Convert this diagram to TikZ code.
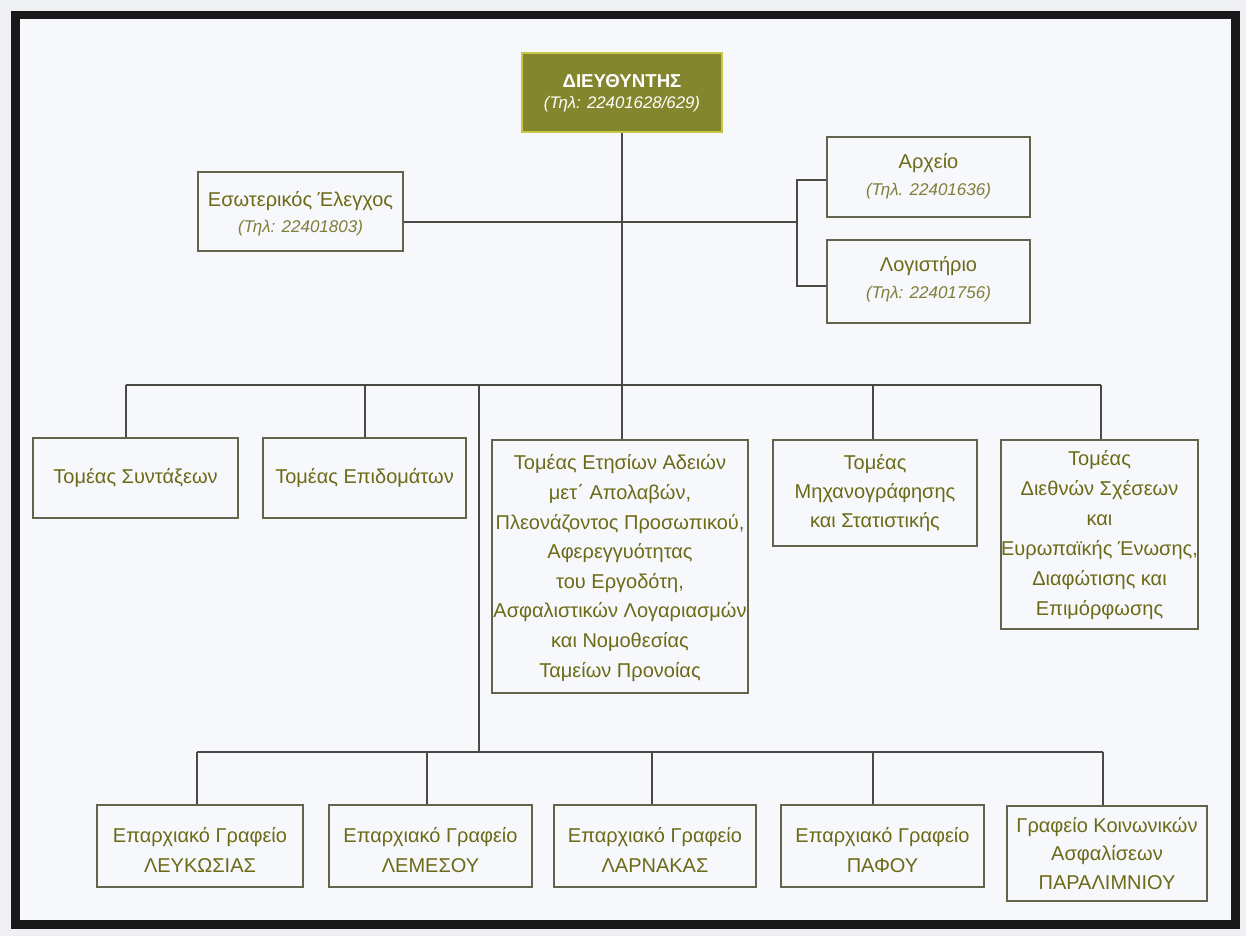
\documentclass[tikz,border=0pt]{standalone}
\usepackage{fontspec}
\setmainfont{Liberation Sans}
\usetikzlibrary{fit,calc}
\definecolor{txt}{RGB}{108,106,22}
\definecolor{ptxt}{RGB}{128,126,56}
\definecolor{brd}{RGB}{100,100,76}
\definecolor{ln}{RGB}{74,74,68}
\definecolor{bg}{RGB}{246,248,252}
\definecolor{outbg}{RGB}{238,240,243}
\definecolor{dirfill}{RGB}{132,134,46}
\definecolor{dirbrd}{RGB}{200,198,72}
\begin{document}
\begin{tikzpicture}[x=0.75pt,y=-0.75pt,
  box/.style={draw=brd, line width=0.85pt, inner sep=0pt, align=center, text=txt,
    font=\fontsize{15}{22}\selectfont},
  dirbox/.style={draw=dirbrd, fill=dirfill, line width=1.6pt, inner sep=0pt, align=center,
    text=white, font=\fontsize{13.5}{17}\selectfont},
  conn/.style={draw=ln, line width=0.95pt}]
\useasboundingbox (0,0) rectangle (1246,936);
\fill[outbg] (0,0) rectangle (1246,936);
\fill[bg] (20,19) rectangle (1231,920);
\draw[line width=6.5pt, black!90] (15.5,15) rectangle (1235.5,924.5);

% top level
\node[dirbox, fit={(522,53) (722,132)}] (dir) {};
\node[text=white, align=center, font=\fontsize{14}{17}\selectfont] at (622,93)
  {\textbf{ΔΙΕΥΘΥΝΤΗΣ}\\[-1pt]{\fontsize{12.6}{17}\selectfont\itshape (Τηλ: 22401628/629)}};

\node[box, fit={(198,172) (403,251)}] (es) {};
\node[text=txt, align=center, font=\fontsize{15}{19.5}\selectfont] at (300.5,214)
  {Εσωτερικός Έλεγχος\\{\color{ptxt}\fontsize{12.75}{19.5}\selectfont\itshape (Τηλ: 22401803)}};

\node[box, fit={(827,137) (1030,217)}] (ar) {};
\node[text=txt, align=center, font=\fontsize{15}{20}\selectfont] at (928.5,176)
  {Αρχείο\\{\color{ptxt}\fontsize{12.75}{20}\selectfont\itshape (Τηλ. 22401636)}};

\node[box, fit={(827,240) (1030,323)}] (lg) {};
\node[text=txt, align=center, font=\fontsize{15}{20}\selectfont] at (928.5,279.5)
  {Λογιστήριο\\{\color{ptxt}\fontsize{12.75}{20}\selectfont\itshape (Τηλ: 22401756)}};

% second row
\node[box, fit={(33,438) (238,518)}] (sy) {};
\node[text=txt, font=\fontsize{15}{22}\selectfont] at (sy.center) {Τομέας Συντάξεων};
\node[box, fit={(263,438) (466,518)}] (ep) {};
\node[text=txt, font=\fontsize{15}{22}\selectfont] at (ep.center) {Τομέας Επιδομάτων};
\node[box, fit={(492,440) (748,693)}] (et) {};
\node[text=txt, align=center, font=\fontsize{15}{22.2}\selectfont] at (620,568)
  {Τομέας Ετησίων Αδειών\\μετ΄ Απολαβών,\\Πλεονάζοντος Προσωπικού,\\Αφερεγγυότητας\\του Εργοδότη,\\Ασφαλιστικών Λογαριασμών\\και Νομοθεσίας\\Ταμείων Προνοίας};
\node[box, fit={(773,440) (977,546)}] (mx) {};
\node[text=txt, align=center, font=\fontsize{15}{22}\selectfont] at (mx.center)
  {Τομέας\\Μηχανογράφησης\\και Στατιστικής};
\node[box, fit={(1001,440) (1198,629)}] (di) {};
\node[text=txt, align=center, font=\fontsize{15}{22.5}\selectfont] at (1099.5,535)
  {Τομέας\\Διεθνών Σχέσεων\\και\\Ευρωπαϊκής Ένωσης,\\Διαφώτισης και\\Επιμόρφωσης};

% third row
\node[box, fit={(97,805) (303,887)}] (lef) {};
\node[text=txt, align=center, font=\fontsize{15}{23}\selectfont] at (200,850)
  {Επαρχιακό Γραφείο\\ΛΕΥΚΩΣΙΑΣ};
\node[box, fit={(329,805) (532,887)}] (lem) {};
\node[text=txt, align=center, font=\fontsize{15}{23}\selectfont] at (430.5,850)
  {Επαρχιακό Γραφείο\\ΛΕΜΕΣΟΥ};
\node[box, fit={(554,805) (756,887)}] (lar) {};
\node[text=txt, align=center, font=\fontsize{15}{23}\selectfont] at (655,850)
  {Επαρχιακό Γραφείο\\ΛΑΡΝΑΚΑΣ};
\node[box, fit={(781,805) (984,887)}] (paf) {};
\node[text=txt, align=center, font=\fontsize{15}{23}\selectfont] at (882.5,850)
  {Επαρχιακό Γραφείο\\ΠΑΦΟΥ};
\node[box, fit={(1007,806) (1207,901)}] (par) {};
\node[text=txt, align=center, font=\fontsize{15}{21.5}\selectfont] at (1107,853.5)
  {Γραφείο Κοινωνικών\\Ασφαλίσεων\\ΠΑΡΑΛΙΜΝΙΟΥ};

% connectors
\coordinate (jR) at (797,222);
\coordinate (bk1) at (797,180);
\coordinate (bk2) at (797,286);
\draw[conn] (dir.south) -- (dir.south |- et.north);
\draw[conn] (jR -| es.east) -- (jR);
\draw[conn] (bk1 -| ar.west) -- (bk1) -- (bk2) -- (bk2 -| lg.west);

\coordinate (b1) at (126,385);
\coordinate (b2) at (365,385);
\coordinate (b4) at (873,385);
\coordinate (b5) at (1101,385);
\coordinate (v1) at (479,385);
\draw[conn] (b1) -- (b5);
\draw[conn] (b1) -- (b1 |- sy.north);
\draw[conn] (b2) -- (b2 |- ep.north);
\draw[conn] (b4) -- (b4 |- mx.north);
\draw[conn] (b5) -- (b5 |- di.north);

\coordinate (c1) at (197,752);
\coordinate (c2) at (427,752);
\coordinate (c3) at (652,752);
\coordinate (c4) at (873,752);
\coordinate (c5) at (1103,752);
\draw[conn] (v1) -- (v1 |- c1);
\draw[conn] (c1) -- (c5);
\draw[conn] (c1) -- (c1 |- lef.north);
\draw[conn] (c2) -- (c2 |- lem.north);
\draw[conn] (c3) -- (c3 |- lar.north);
\draw[conn] (c4) -- (c4 |- paf.north);
\draw[conn] (c5) -- (c5 |- par.north);
\end{tikzpicture}
\end{document}
